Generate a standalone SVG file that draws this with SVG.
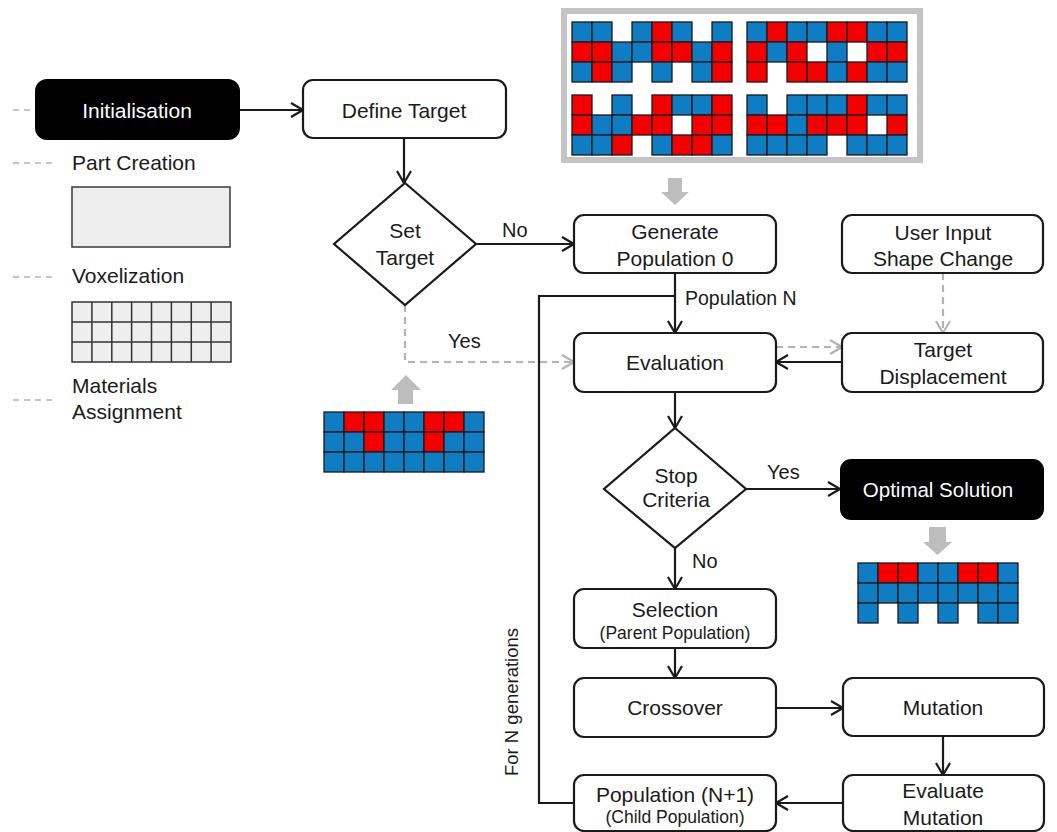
<svg xmlns="http://www.w3.org/2000/svg" width="1057" height="832" viewBox="0 0 1057 832">
<style>
text{font-family:"Liberation Sans",Arial,sans-serif;fill:#1a1a1a}
.box{fill:#fff;stroke:#1a1a1a;stroke-width:2.2}
.blk{fill:#000;stroke:#000;stroke-width:2}
.t{font-size:21px;text-anchor:middle}
.tw{font-size:21px;text-anchor:middle;fill:#fff}
.ts{font-size:17.5px;text-anchor:middle}
.lbl{font-size:20px}
.ln{fill:none;stroke:#1a1a1a;stroke-width:2.2}
.dl{fill:none;stroke:#b4b4b4;stroke-width:2.2;stroke-dasharray:7 5}
.b{fill:#0f7dc4;stroke:#1a1a1a;stroke-width:1.3}
.r{fill:#f50000;stroke:#1a1a1a;stroke-width:1.3}
.g{fill:#bdbdbd}
.lg{fill:none;stroke:#b4b4b4;stroke-width:1.6;stroke-dasharray:6 5}
</style>
<defs>
<marker id="ah" markerUnits="userSpaceOnUse" markerWidth="14" markerHeight="16" viewBox="0 0 14 16" refX="13" refY="8" orient="auto">
<path d="M1,1 L13,8 L1,15" fill="none" stroke="#1a1a1a" stroke-width="2.2"/>
</marker>
<marker id="ahg" markerUnits="userSpaceOnUse" markerWidth="14" markerHeight="16" viewBox="0 0 14 16" refX="13" refY="8" orient="auto">
<path d="M1,1 L13,8 L1,15" fill="none" stroke="#b4b4b4" stroke-width="2.2"/>
</marker>
</defs>
<rect width="1057" height="832" fill="#fff"/>

<!-- left legend -->
<g id="legend">
<line class="lg" x1="13" y1="110" x2="35" y2="110"/>
<line class="lg" x1="13" y1="163" x2="57" y2="163"/>
<line class="lg" x1="13" y1="277" x2="57" y2="277"/>
<line class="lg" x1="13" y1="400" x2="57" y2="400"/>
<text class="lbl" x="72" y="170" style="font-size:21px">Part Creation</text>
<rect x="72" y="187" width="158" height="60" fill="#eeeeee" stroke="#444" stroke-width="1.6"/>
<text class="lbl" x="72" y="283" style="font-size:21px">Voxelization</text>
<g stroke="#333" stroke-width="1.5">
<rect x="72" y="302" width="159" height="60" fill="#eeeeee"/>
<path d="M72,322H231M72,342H231M91.9,302V362M111.8,302V362M131.6,302V362M151.5,302V362M171.4,302V362M191.3,302V362M211.1,302V362" fill="none"/>
</g>
<text class="lbl" x="72" y="393" style="font-size:21px">Materials</text>
<text class="lbl" x="72" y="419" style="font-size:21px">Assignment</text>
</g>

<!-- population panel -->
<g id="population">
<rect x="564" y="11" width="356" height="149" fill="#fff" stroke="#c4c4c4" stroke-width="6"/>
<rect class="b" x="572" y="22" width="20" height="20"/><rect class="b" x="592" y="22" width="20" height="20"/><rect class="b" x="632" y="22" width="20" height="20"/><rect class="r" x="652" y="22" width="20" height="20"/><rect class="b" x="672" y="22" width="20" height="20"/><rect class="b" x="712" y="22" width="20" height="20"/>
<rect class="r" x="572" y="42" width="20" height="20"/><rect class="r" x="592" y="42" width="20" height="20"/><rect class="b" x="612" y="42" width="20" height="20"/><rect class="b" x="632" y="42" width="20" height="20"/><rect class="r" x="652" y="42" width="20" height="20"/><rect class="r" x="672" y="42" width="20" height="20"/><rect class="b" x="692" y="42" width="20" height="20"/><rect class="r" x="712" y="42" width="20" height="20"/>
<rect class="b" x="572" y="62" width="20" height="20"/><rect class="r" x="592" y="62" width="20" height="20"/><rect class="b" x="612" y="62" width="20" height="20"/><rect class="b" x="652" y="62" width="20" height="20"/><rect class="b" x="692" y="62" width="20" height="20"/><rect class="r" x="712" y="62" width="20" height="20"/>

<rect class="b" x="747" y="22" width="20" height="20"/><rect class="r" x="767" y="22" width="20" height="20"/><rect class="b" x="787" y="22" width="20" height="20"/><rect class="b" x="807" y="22" width="20" height="20"/><rect class="r" x="827" y="22" width="20" height="20"/><rect class="r" x="847" y="22" width="20" height="20"/><rect class="b" x="867" y="22" width="20" height="20"/><rect class="b" x="887" y="22" width="20" height="20"/>
<rect class="r" x="747" y="42" width="20" height="20"/><rect class="b" x="767" y="42" width="20" height="20"/><rect class="r" x="787" y="42" width="20" height="20"/><rect class="b" x="827" y="42" width="20" height="20"/><rect class="r" x="867" y="42" width="20" height="20"/><rect class="r" x="887" y="42" width="20" height="20"/>
<rect class="r" x="747" y="62" width="20" height="20"/><rect class="r" x="787" y="62" width="20" height="20"/><rect class="r" x="807" y="62" width="20" height="20"/><rect class="b" x="827" y="62" width="20" height="20"/><rect class="r" x="847" y="62" width="20" height="20"/><rect class="b" x="867" y="62" width="20" height="20"/><rect class="b" x="887" y="62" width="20" height="20"/>

<rect class="r" x="572" y="95" width="20" height="20"/><rect class="b" x="612" y="95" width="20" height="20"/><rect class="r" x="652" y="95" width="20" height="20"/><rect class="b" x="672" y="95" width="20" height="20"/><rect class="b" x="692" y="95" width="20" height="20"/><rect class="r" x="712" y="95" width="20" height="20"/>
<rect class="r" x="572" y="115" width="20" height="20"/><rect class="b" x="592" y="115" width="20" height="20"/><rect class="b" x="612" y="115" width="20" height="20"/><rect class="r" x="632" y="115" width="20" height="20"/><rect class="r" x="652" y="115" width="20" height="20"/><rect class="r" x="692" y="115" width="20" height="20"/><rect class="r" x="712" y="115" width="20" height="20"/>
<rect class="b" x="572" y="135" width="20" height="20"/><rect class="b" x="592" y="135" width="20" height="20"/><rect class="r" x="612" y="135" width="20" height="20"/><rect class="b" x="652" y="135" width="20" height="20"/><rect class="r" x="672" y="135" width="20" height="20"/><rect class="r" x="692" y="135" width="20" height="20"/><rect class="b" x="712" y="135" width="20" height="20"/>

<rect class="b" x="747" y="95" width="20" height="20"/><rect class="b" x="787" y="95" width="20" height="20"/><rect class="b" x="807" y="95" width="20" height="20"/><rect class="b" x="827" y="95" width="20" height="20"/><rect class="r" x="847" y="95" width="20" height="20"/><rect class="b" x="867" y="95" width="20" height="20"/><rect class="b" x="887" y="95" width="20" height="20"/>
<rect class="r" x="747" y="115" width="20" height="20"/><rect class="r" x="767" y="115" width="20" height="20"/><rect class="b" x="787" y="115" width="20" height="20"/><rect class="r" x="807" y="115" width="20" height="20"/><rect class="r" x="827" y="115" width="20" height="20"/><rect class="r" x="847" y="115" width="20" height="20"/><rect class="r" x="887" y="115" width="20" height="20"/>
<rect class="b" x="747" y="135" width="20" height="20"/><rect class="b" x="767" y="135" width="20" height="20"/><rect class="b" x="787" y="135" width="20" height="20"/><rect class="b" x="807" y="135" width="20" height="20"/><rect class="b" x="847" y="135" width="20" height="20"/><rect class="b" x="867" y="135" width="20" height="20"/><rect class="b" x="887" y="135" width="20" height="20"/>
<path class="g" d="M668,178H682V192H689L675,205L661,192H668Z"/>
</g>

<!-- target grid -->
<g id="target-grid">
<path class="g" d="M398,404H413V390H421L406,375L391,390H398Z"/>
<rect class="b" x="324" y="412" width="20" height="20"/><rect class="r" x="344" y="412" width="20" height="20"/><rect class="r" x="364" y="412" width="20" height="20"/><rect class="b" x="384" y="412" width="20" height="20"/><rect class="b" x="404" y="412" width="20" height="20"/><rect class="r" x="424" y="412" width="20" height="20"/><rect class="r" x="444" y="412" width="20" height="20"/><rect class="b" x="464" y="412" width="20" height="20"/>
<rect class="b" x="324" y="432" width="20" height="20"/><rect class="b" x="344" y="432" width="20" height="20"/><rect class="r" x="364" y="432" width="20" height="20"/><rect class="b" x="384" y="432" width="20" height="20"/><rect class="b" x="404" y="432" width="20" height="20"/><rect class="r" x="424" y="432" width="20" height="20"/><rect class="b" x="444" y="432" width="20" height="20"/><rect class="b" x="464" y="432" width="20" height="20"/>
<rect class="b" x="324" y="452" width="20" height="20"/><rect class="b" x="344" y="452" width="20" height="20"/><rect class="b" x="364" y="452" width="20" height="20"/><rect class="b" x="384" y="452" width="20" height="20"/><rect class="b" x="404" y="452" width="20" height="20"/><rect class="b" x="424" y="452" width="20" height="20"/><rect class="b" x="444" y="452" width="20" height="20"/><rect class="b" x="464" y="452" width="20" height="20"/>
</g>

<!-- solution grid -->
<g id="solution-grid">
<path class="g" d="M929,527H946V542H952L937.5,555L923,542H929Z"/>
<rect class="b" x="858" y="563" width="20" height="20"/><rect class="r" x="878" y="563" width="20" height="20"/><rect class="r" x="898" y="563" width="20" height="20"/><rect class="b" x="918" y="563" width="20" height="20"/><rect class="b" x="938" y="563" width="20" height="20"/><rect class="r" x="958" y="563" width="20" height="20"/><rect class="r" x="978" y="563" width="20" height="20"/><rect class="b" x="998" y="563" width="20" height="20"/>
<rect class="b" x="858" y="583" width="20" height="20"/><rect class="b" x="878" y="583" width="20" height="20"/><rect class="b" x="898" y="583" width="20" height="20"/><rect class="b" x="918" y="583" width="20" height="20"/><rect class="b" x="938" y="583" width="20" height="20"/><rect class="b" x="958" y="583" width="20" height="20"/><rect class="b" x="978" y="583" width="20" height="20"/><rect class="b" x="998" y="583" width="20" height="20"/>
<rect class="b" x="858" y="603" width="20" height="20"/><rect class="b" x="898" y="603" width="20" height="20"/><rect class="b" x="938" y="603" width="20" height="20"/><rect class="b" x="978" y="603" width="20" height="20"/><rect class="b" x="998" y="603" width="20" height="20"/>
</g>

<!-- connectors -->
<g id="connectors">
<line class="ln" x1="239" y1="110" x2="303" y2="110" marker-end="url(#ah)"/>
<line class="ln" x1="404" y1="138" x2="404" y2="183" marker-end="url(#ah)"/>
<line class="ln" x1="475" y1="244" x2="574" y2="244" marker-end="url(#ah)"/>
<path class="dl" d="M405,305V362H574" marker-end="url(#ahg)"/>
<line class="ln" x1="675" y1="273" x2="675" y2="333" marker-end="url(#ah)"/>
<path class="ln" d="M574,803H539V296H675"/>
<line class="dl" x1="776" y1="347" x2="842" y2="347" marker-end="url(#ahg)"/>
<line class="ln" x1="842" y1="362" x2="776" y2="362" marker-end="url(#ah)"/>
<line class="dl" x1="943" y1="273" x2="943" y2="333" marker-end="url(#ahg)"/>
<line class="ln" x1="675" y1="392" x2="675" y2="428" marker-end="url(#ah)"/>
<line class="ln" x1="746" y1="489" x2="840" y2="489" marker-end="url(#ah)"/>
<line class="ln" x1="675" y1="548" x2="675" y2="589" marker-end="url(#ah)"/>
<line class="ln" x1="675" y1="648" x2="675" y2="678" marker-end="url(#ah)"/>
<line class="ln" x1="776" y1="708" x2="843" y2="708" marker-end="url(#ah)"/>
<line class="ln" x1="943" y1="736" x2="943" y2="775" marker-end="url(#ah)"/>
<line class="ln" x1="843" y1="803" x2="776" y2="803" marker-end="url(#ah)"/>
<text class="lbl" x="502" y="237">No</text>
<text class="lbl" x="448" y="348">Yes</text>
<text class="lbl" x="685" y="305" style="font-size:19.5px">Population N</text>
<text class="lbl" x="767" y="479">Yes</text>
<text class="lbl" x="692" y="568">No</text>
<text class="lbl" transform="translate(518,702) rotate(-90)" text-anchor="middle" style="font-size:18.5px">For N generations</text>
</g>

<!-- nodes -->
<g id="initialisation"><rect class="blk" x="36" y="80" width="203" height="59" rx="11"/><text class="tw" x="137" y="118">Initialisation</text></g>
<g id="define-target"><rect class="box" x="303" y="80" width="203" height="58" rx="10"/><text class="t" x="404" y="118">Define Target</text></g>
<g id="set-target"><path class="box" d="M405,183L476,244L405,305L334,244Z"/><text class="t" x="405" y="238">Set</text><text class="t" x="405" y="265">Target</text></g>
<g id="generate"><rect class="box" x="574" y="215" width="202" height="58" rx="10"/><text class="t" x="675" y="239">Generate</text><text class="t" x="675" y="266">Population 0</text></g>
<g id="user-input"><rect class="box" x="842" y="215" width="201" height="58" rx="10"/><text class="t" x="943" y="240">User Input</text><text class="t" x="943" y="266">Shape Change</text></g>
<g id="evaluation"><rect class="box" x="574" y="333" width="202" height="59" rx="10"/><text class="t" x="675" y="370">Evaluation</text></g>
<g id="target-displacement"><rect class="box" x="842" y="333" width="201" height="59" rx="10"/><text class="t" x="943" y="357">Target</text><text class="t" x="943" y="384">Displacement</text></g>
<g id="stop-criteria"><path class="box" d="M675,428L746,489L675,548L604,489Z"/><text class="t" x="676" y="483">Stop</text><text class="t" x="676" y="507">Criteria</text></g>
<g id="optimal"><rect class="blk" x="841" y="460" width="202" height="59" rx="10"/><text class="tw" x="938" y="497" style="font-size:20.5px">Optimal Solution</text></g>
<g id="selection"><rect class="box" x="574" y="589" width="202" height="59" rx="10"/><text class="t" x="675" y="617">Selection</text><text class="ts" x="675" y="639">(Parent Population)</text></g>
<g id="crossover"><rect class="box" x="574" y="678" width="202" height="59" rx="10"/><text class="t" x="675" y="715">Crossover</text></g>
<g id="mutation"><rect class="box" x="843" y="678" width="201" height="58" rx="10"/><text class="t" x="943" y="715">Mutation</text></g>
<g id="population-n1"><rect class="box" x="574" y="775" width="202" height="56" rx="10"/><text class="t" x="675" y="802">Population (N+1)</text><text class="ts" x="675" y="823">(Child Population)</text></g>
<g id="evaluate-mutation"><rect class="box" x="843" y="775" width="201" height="56" rx="10"/><text class="t" x="943" y="798">Evaluate</text><text class="t" x="943" y="825">Mutation</text></g>
</svg>
